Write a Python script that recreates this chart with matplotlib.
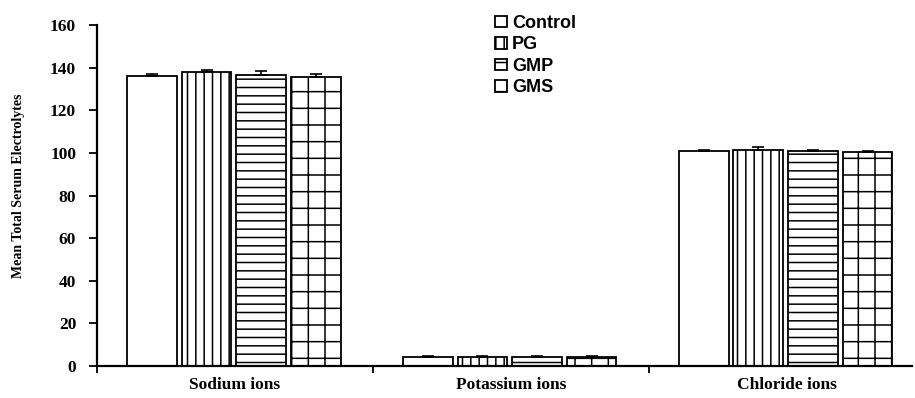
import numpy as np
import matplotlib.pyplot as plt
from matplotlib.ticker import FixedLocator

categories = ["Sodium ions", "Potassium ions", "Chloride ions"]
groups = ["Control", "PG", "GMP", "GMS"]
means = {
    "Control": [136.3, 4.4, 100.8],
    "PG": [137.8, 4.3, 101.2],
    "GMP": [136.8, 4.2, 101.0],
    "GMS": [135.7, 4.3, 100.5],
}
errors = {
    "Control": [0.6, 0.2, 0.6],
    "PG": [1.0, 0.2, 1.4],
    "GMP": [1.5, 0.5, 0.5],
    "GMS": [1.2, 0.4, 0.6],
}
hatches = {"Control": "", "PG": "||", "GMP": "--", "GMS": "+"}

plt.rcParams["hatch.linewidth"] = 1.1

fig = plt.figure(figsize=(9.15, 3.98), dpi=100)
ax = fig.add_axes([0.106, 0.0804, 0.891, 0.8566])

x = np.arange(len(categories))
offsets = [-0.3, -0.103, 0.095, 0.293]
width = 0.18
for g, off in zip(groups, offsets):
    ax.bar(x + off, means[g], width, color="white", edgecolor="black",
           linewidth=1.3, hatch=hatches[g], label=g, zorder=2)
    ax.errorbar(x + off, means[g], yerr=[np.zeros(3), errors[g]], fmt="none",
                ecolor="black", elinewidth=1.2, capsize=4, capthick=1.2, zorder=3)

ax.set_xlim(-0.5, 2.455)
ax.set_ylim(0, 160)
ax.set_yticks(range(0, 161, 20))
ax.xaxis.set_major_locator(FixedLocator([-0.5, 0.5, 1.5]))
ax.xaxis.set_major_formatter(plt.NullFormatter())
ax.xaxis.set_minor_locator(FixedLocator(x))
ax.set_xticklabels(categories, minor=True)
ax.tick_params(axis="x", which="major", direction="out", length=5, width=1.3)
ax.tick_params(axis="x", which="minor", length=0, pad=8)
ax.tick_params(axis="y", direction="out", length=6, width=1.3, pad=9)
for lab in ax.get_xticklabels(minor=True):
    lab.set_fontfamily("Liberation Serif")
    lab.set_fontweight("bold")
    lab.set_fontsize(12.5)
for lab in ax.get_yticklabels():
    lab.set_fontfamily("Liberation Serif")
    lab.set_fontweight("bold")
    lab.set_fontsize(12.5)

ax.spines["top"].set_visible(False)
ax.spines["right"].set_visible(False)
ax.spines["left"].set_linewidth(1.6)
ax.spines["bottom"].set_linewidth(1.6)

ax.set_ylabel("Mean Total Serum Electrolytes", fontfamily="Liberation Serif",
              fontweight="bold", fontsize=10)
ax.yaxis.set_label_coords(-0.088, 0.53)

leg = ax.legend(loc="upper left", bbox_to_anchor=(0.488, 1.03), frameon=False,
                prop={"family": "Liberation Sans", "weight": "bold", "size": 13},
                handlelength=0.65, handleheight=0.6, handletextpad=0.3,
                labelspacing=0.25, borderaxespad=0, borderpad=0)

fig.savefig("out.png", dpi=100)
